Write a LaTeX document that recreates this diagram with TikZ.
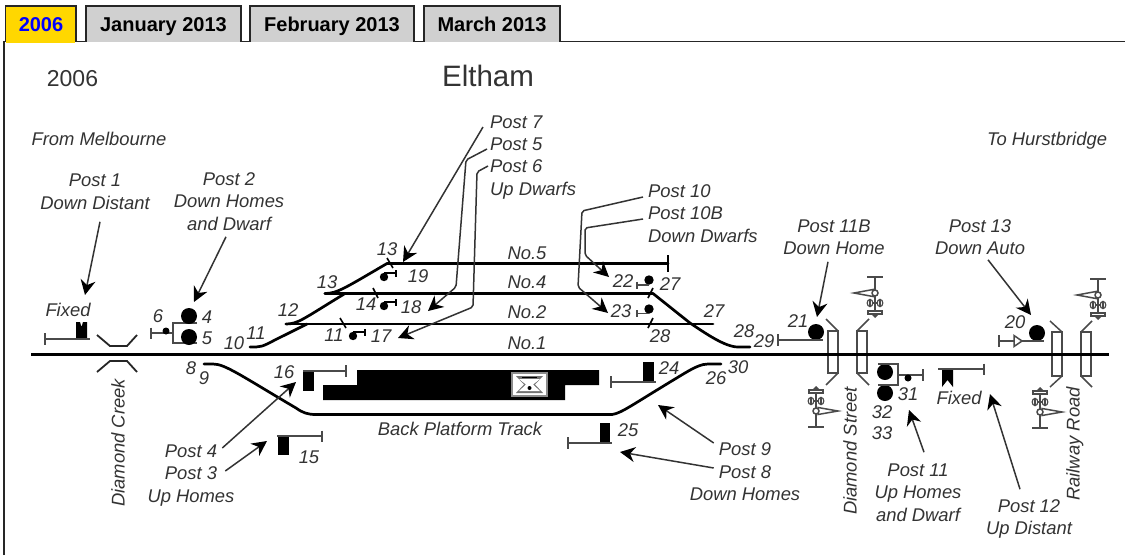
\documentclass[tikz,border=0pt]{standalone}
\usepackage{fontspec}
\setmainfont{Liberation Sans}
\usetikzlibrary{arrows.meta}
\definecolor{ink}{HTML}{333333}
\definecolor{greyline}{HTML}{4A4A4A}
\definecolor{tabgrey}{HTML}{D0D0D0}
\definecolor{tabgold}{HTML}{FFD700}
\tikzset{
  lbl/.style={font=\fontsize{18.4}{20}\selectfont\itshape,text=ink,inner sep=0pt,text height=13.2pt,text depth=0pt},
  tabbox/.style={draw=black!85,line width=1.2pt,fill=tabgrey},
  tabtext/.style={font=\fontsize{20}{22}\selectfont\bfseries,inner sep=0pt,text=black,text height=14.4pt,text depth=0pt},
  track/.style={line width=2.7pt,black,line cap=round},
  arr/.style={draw=ink,line width=1.5pt,-{Stealth[length=15pt,width=15pt,black]},rounded corners=2pt},
  post/.style={draw=greyline,line width=1.5pt},
  postblack/.style={draw=black,line width=1.6pt},
  bridge/.style={draw=greyline,line width=1.5pt},
  lamp/.style={fill=black},
  tick/.style={draw=black,line width=1.6pt}
}
% upper level crossing flasher: x, y of the white circle
\newcommand{\gateUp}[2]{%
  \draw[post] (#1-8,#2-16) -- (#1+8,#2-16) (#1,#2-16) -- (#1,#2+20);
  \draw[post,fill=white] (#1-21,#2) -- (#1-2,#2-3.5) -- (#1-2,#2+3.5) -- cycle;
  \draw[post,fill=white] (#1,#2) circle (3);
  \draw[post,line width=1.2pt] (#1-7,#2+10) -- (#1+7,#2+10);
  \draw[post,line width=1.2pt,fill=white] (#1-5,#2+10) ellipse (2.8 and 3.6) (#1+5,#2+10) ellipse (2.8 and 3.6);
  \draw[post,line width=1.2pt] (#1-5,#2+6.5) -- (#1-5,#2+13.5) (#1+5,#2+6.5) -- (#1+5,#2+13.5);
  \draw[post,fill=white] (#1-7,#2+18) rectangle (#1+7,#2+21);
  \fill[greyline] (#1-4,#2+21) -- (#1+4,#2+21) -- (#1,#2+25) -- cycle;
}
% lower level crossing flasher: x, y of the white circle
\newcommand{\gateDown}[2]{%
  \draw[post] (#1-8,#2+16) -- (#1+8,#2+16) (#1,#2+16) -- (#1,#2-20);
  \draw[post,fill=white] (#1+22,#2) -- (#1+2,#2-3.5) -- (#1+2,#2+3.5) -- cycle;
  \draw[post,fill=white] (#1,#2) circle (3);
  \draw[post,line width=1.2pt] (#1-7,#2-10) -- (#1+7,#2-10);
  \draw[post,line width=1.2pt,fill=white] (#1-5,#2-10) ellipse (2.8 and 3.6) (#1+5,#2-10) ellipse (2.8 and 3.6);
  \draw[post,line width=1.2pt] (#1-5,#2-13.5) -- (#1-5,#2-6.5) (#1+5,#2-13.5) -- (#1+5,#2-6.5);
  \draw[post,fill=white] (#1-7,#2-21) rectangle (#1+7,#2-18);
  \fill[greyline] (#1-4,#2-21) -- (#1+4,#2-21) -- (#1,#2-25) -- cycle;
}
\begin{document}
\begin{tikzpicture}[x=1pt,y=-1pt]
\useasboundingbox (0,0) rectangle (1125,555);
\fill[white] (0,0) rectangle (1125,555);

% tabs and frame
\draw[black!85,line width=1.2pt] (4,555) -- (4,41.5) -- (1125,41.5);
\draw[tabbox,fill=tabgold] (5.5,41.5) -- (5.5,6) -- (76,6) -- (76,41.5);
\fill[tabgold] (6,40) rectangle (75.4,43);
\draw[black!85,line width=1.2pt] (4,42) -- (4,44);
\draw[tabbox] (86,41.5) -- (86,6) -- (241,6) -- (241,41.5);
\draw[tabbox] (250,41.5) -- (250,6) -- (414,6) -- (414,41.5);
\draw[tabbox] (424,41.5) -- (424,6) -- (560,6) -- (560,41.5);
\node[tabtext,text=blue] (t1) at (41,24.5) {2006};
\node[tabtext] (t2) at (163.5,24.5) {January 2013};
\node[tabtext] (t3) at (332,24.5) {February 2013};
\node[tabtext] (t4) at (492,24.5) {March 2013};

% titles
\node[font=\fontsize{23}{25}\selectfont,text=ink,inner sep=0pt] (year) at (72.5,79) {2006};
\node[font=\fontsize{29.5}{31}\selectfont,text=ink,inner sep=0pt] (title) at (488,76) {Eltham};
\node[lbl] (from) at (99,139) {From Melbourne};
\node[lbl] (to) at (1047,139) {To Hurstbridge};

% bridges
\draw[bridge,black!85,line width=1.8pt] (97,335) -- (110,346) -- (127,346) -- (137,335);
\draw[bridge,black!85,line width=1.8pt] (97,372) -- (110,361) -- (127,361) -- (137,372);
\draw[bridge] (828,331) rectangle (838,373) (857,331) rectangle (867,373);
\draw[bridge] (826,319) -- (838,331) (838,373) -- (826,385) (869,319) -- (857,331) (857,373) -- (869,385);
\draw[bridge] (1052,332) rectangle (1062,376) (1081,332) rectangle (1091,376);
\draw[bridge] (1050,321) -- (1062,332) (1062,376) -- (1050,387) (1092,321) -- (1081,332) (1081,376) -- (1092,387);

% platform
\fill[black] (357,370) -- (599,370) -- (599,385) -- (565,385) -- (565,400) -- (323,400) -- (323,385) -- (357,385) -- cycle;
\draw[draw=black!45,line width=1.4pt,fill=white] (512,373) rectangle (547,396);
\fill[black!55] (516,376) -- (543,376) -- (535,384.5) -- (543,393) -- (516,393) -- (524,384.5) -- cycle;
\fill[white] (519,379) -- (540,379) -- (533,384.5) -- (540,391) -- (519,391) -- (526,384.5) -- cycle;
\draw[black,line width=1pt] (522,377.5) -- (537,377.5);
\fill[black] (529.5,388) circle (2);

% tracks
\draw[black,line width=3pt] (31,354) -- (1109,354);
\draw[track] (250,347) -- (256,347) .. controls (264,347) and (270,342) .. (284,335.5) -- (307,324);
\draw[track] (286,324) -- (713,324);
\draw[track] (286,324) .. controls (298,324) and (303,319) .. (345,293.5);
\draw[track] (325,293.5) -- (653,293.5);
\draw[track] (325,293.5) .. controls (337,293.5) and (345,288) .. (387,263.5);
\draw[track] (387,263.5) -- (668,263.5);
\draw[black,line width=2pt] (668,255) -- (668,272);
\draw[track] (653,293.5) -- (690,323) .. controls (705,333) and (725,347) .. (738,347) -- (750,347);
\draw[track] (204,364) -- (213,364) .. controls (225,364) and (240,375) .. (296,408) .. controls (303,413) and (308,414.5) .. (316,414.5);
\draw[track] (316,414.5) -- (612,414.5);
\draw[track] (612,414.5) .. controls (622,413) and (630,406) .. (685,373) .. controls (695,367) and (702,364) .. (708,364) -- (721,364);

% ticks on tracks
\draw[tick] (387,258) -- (393,268);
\draw[tick] (373,288) -- (378,298);
\draw[tick] (340,318) -- (346,328);
\draw[tick] (653,288) -- (648,298);
\draw[tick] (653,318) -- (648,328);

% large signals
\fill[black] (76,322) -- (80,322) -- (81.5,327) -- (83,322) -- (87,322) -- (87,339) -- (76,339) -- cycle;
\draw[post] (45,339) -- (90,339) (45,333) -- (45,345);
\fill[black] (303,371) rectangle (314,391);
\draw[post] (303,371) -- (346,371) (346,365) -- (346,377);
\fill[black] (278,436) rectangle (289,455);
\draw[post] (277,436) -- (322,436) (322,430.5) -- (322,442);
\fill[black] (643,362) rectangle (654,382);
\draw[post] (611,382) -- (656,382) (611,376) -- (611,388);
\fill[black] (600,423) rectangle (610,443);
\draw[post] (568,443) -- (612,443) (568,437) -- (568,449);
\fill[black] (942,369) -- (953,369) -- (953,387) -- (947.5,380) -- (942,387) -- cycle;
\draw[post] (938,369) -- (984,369) (984,363.5) -- (984,375);

% post 2 signals
\draw[post] (151,333) -- (173,333) (151,327.5) -- (151,339);
\draw[post] (197,323) -- (173,323) -- (173,343) -- (197,343);
\fill[lamp] (166,331) circle (3.5);
\fill[lamp] (189,316) circle (8) (189,337) circle (8);

% dwarfs
\fill[lamp] (384,277) circle (4.2) (384,306) circle (4.2) (353,336) circle (4.2);
\draw[postblack] (384,273) -- (396,273) (396,270) -- (396,277);
\draw[postblack] (384,302) -- (396,302) (396,299) -- (396,306);
\draw[postblack] (353,332) -- (365,332) (365,329) -- (365,336);
\fill[lamp] (649,280) circle (4.7) (649,309) circle (4.7);
\draw[post] (637,285) -- (649,285) (637,281.5) -- (637,288.5);
\draw[post] (637,313.5) -- (649,313.5) (637,310) -- (637,317);

% signal 21
\fill[lamp] (816,332) circle (8);
\draw[post] (778,340) -- (823,340) (778,334) -- (778,346);
% signal 20
\fill[lamp] (1037,333) circle (8);
\draw[post] (999,341) -- (1044,341) (999,335) -- (999,347);
\draw[post,fill=white] (1014,335.5) -- (1022,341) -- (1014,346.5) -- cycle;
% signals 31 32 33
\fill[lamp] (885,372) circle (8) (885,393) circle (8);
\draw[post] (878,364) -- (898,364) -- (898,385) -- (878,385);
\draw[post] (898,375) -- (923,375) (923,369) -- (923,381);
\fill[lamp] (908,378) circle (3.5);

% level crossing flashers
\gateUp{875}{293}
\gateDown{816}{411}
\gateUp{1098}{295}
\gateDown{1040}{412}

% text labels
\node[lbl] (a1) at (95,180) {Post 1};
\node[lbl] (a2) at (95,203) {Down Distant};
\node[lbl] (b1) at (229,179) {Post 2};
\node[lbl] (b2) at (229,201) {Down Homes};
\node[lbl] (b3) at (229,224) {and Dwarf};
\node[lbl] (fx1) at (68,310) {Fixed};
\node[lbl,anchor=west] (c1) at (490,122) {Post 7};
\node[lbl,anchor=west] (c2) at (490,144) {Post 5};
\node[lbl,anchor=west] (c3) at (490,166) {Post 6};
\node[lbl,anchor=west] (c4) at (490,189) {Up Dwarfs};
\node[lbl,anchor=west] (d1) at (648,191) {Post 10};
\node[lbl,anchor=west] (d2) at (648,213) {Post 10B};
\node[lbl,anchor=west] (d3) at (648,236) {Down Dwarfs};
\node[lbl] (e1) at (834,226) {Post 11B};
\node[lbl] (e2) at (834,248) {Down Home};
\node[lbl] (f1) at (980,226) {Post 13};
\node[lbl] (f2) at (980,248) {Down Auto};
\node[lbl] (no5) at (527,253) {No.5};
\node[lbl] (no4) at (527,282) {No.4};
\node[lbl] (no2) at (527,312) {No.2};
\node[lbl] (no1) at (527,343) {No.1};
\node[lbl] (g1) at (191,451) {Post 4};
\node[lbl] (g2) at (191,473) {Post 3};
\node[lbl] (g3) at (191,496) {Up Homes};
\node[lbl] (h1) at (745,449) {Post 9};
\node[lbl] (h2) at (745,472) {Post 8};
\node[lbl] (h3) at (745,494) {Down Homes};
\node[lbl] (i1) at (918,470) {Post 11};
\node[lbl] (i2) at (918,492) {Up Homes};
\node[lbl] (i3) at (918,515) {and Dwarf};
\node[lbl] (j1) at (1029,506) {Post 12};
\node[lbl] (j2) at (1029,528) {Up Distant};
\node[lbl] (fx2) at (959,398) {Fixed};
\node[lbl] (bpt) at (460,429) {Back Platform Track};
\node[lbl,rotate=90] (dc) at (118,443) {Diamond Creek};
\node[lbl,rotate=90] (ds) at (850,451) {Diamond Street};
\node[lbl,rotate=90] (rr) at (1073,444) {Railway Road};

% numbers
\node[lbl] (n4) at (207,317) {4};
\node[lbl] (n5) at (207,338) {5};
\node[lbl] (n6) at (158,316) {6};
\node[lbl] (n8) at (191,368) {8};
\node[lbl] (n9) at (204,378) {9};
\node[lbl] (n10) at (234,343) {10};
\node[lbl] (n11a) at (256,333) {11};
\node[lbl] (n11b) at (334,335) {11};
\node[lbl] (n12) at (288,310) {12};
\node[lbl] (n13a) at (327,282) {13};
\node[lbl] (n13b) at (387,249) {13};
\node[lbl] (n14) at (366,304) {14};
\node[lbl] (n15) at (309,457) {15};
\node[lbl] (n16) at (284,372) {16};
\node[lbl] (n17) at (381,336) {17};
\node[lbl] (n18) at (411,307) {18};
\node[lbl] (n19) at (418,276) {19};
\node[lbl] (n20) at (1015,322) {20};
\node[lbl] (n21) at (798,321) {21};
\node[lbl] (n22) at (623,281) {22};
\node[lbl] (n23) at (621,311) {23};
\node[lbl] (n24) at (669,368) {24};
\node[lbl] (n25) at (628,430) {25};
\node[lbl] (n26) at (716,378) {26};
\node[lbl] (n27a) at (670,284) {27};
\node[lbl] (n27b) at (714,311) {27};
\node[lbl] (n28a) at (660,336) {28};
\node[lbl] (n28b) at (744,331) {28};
\node[lbl] (n29) at (764,341) {29};
\node[lbl] (n30) at (738,367) {30};
\node[lbl] (n31) at (908,394) {31};
\node[lbl] (n32) at (882,412) {32};
\node[lbl] (n33) at (882,433) {33};

% arrow targets
\coordinate (ta) at (85,295);
\coordinate (tb) at (194,302);
\coordinate (tc7) at (403,262);
\coordinate (tc5) at (428,311);
\coordinate (tc6) at (398,338);
\coordinate (td0) at (608,313);
\coordinate (tdb) at (609,277);
\coordinate (te) at (817,317);
\coordinate (tf) at (1031,315);
\coordinate (tg4) at (296,382);
\coordinate (tg3) at (267,441);
\coordinate (th9) at (658,405);
\coordinate (th8) at (620,452);
\coordinate (ti) at (909,410);
\coordinate (tj) at (990,394);

% arrows
\draw[arr] ([shift={(5,12)}]a2.south) -- (ta);
\draw[arr] ([shift={(-3,6)}]b3.south) -- (tb);
\draw[arr] ([shift={(-7,5)}]c1.west) -- (tc7);
\draw[arr] ([shift={(-3,5)}]c2.west) -- (466,160) -- (456,287) -- (tc5);
\draw[arr] ([shift={(-2,0)}]c3.west) -- (477,172) -- (473,307) -- (tc6);
\draw[arr] ([shift={(-5,6)}]d1.west) -- (582,211) -- (578,287) -- (td0);
\draw[arr] ([shift={(-5,6)}]d2.west) -- (585,228) -- (585,255) -- (tdb);
\draw[arr] ([shift={(-6,7)}]e2.south) -- (te);
\draw[arr] ([shift={(8,5)}]f2.south) -- (tf);
\draw[arr] ([shift={(5,-3)}]g1.east) -- (tg4);
\draw[arr] ([shift={(8,-2)}]g2.east) -- (tg3);
\draw[arr] ([shift={(-5,-6)}]h1.west) -- (th9);
\draw[arr] ([shift={(-5,-4)}]h2.west) -- (th8);
\draw[arr] ([shift={(6,-11)}]i1.north) -- (ti);
\draw[arr] ([shift={(-9,-10)}]j1.north) -- (tj);
\end{tikzpicture}
\end{document}
